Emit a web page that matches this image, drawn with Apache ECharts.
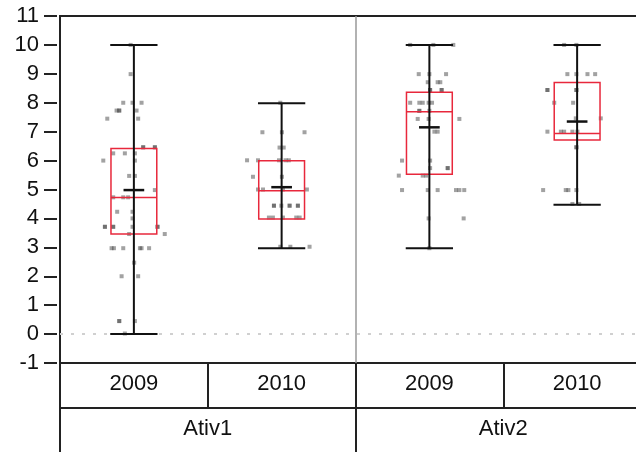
<!DOCTYPE html>
<html><head><meta charset="utf-8">
<script src="https://cdn.jsdelivr.net/npm/echarts@6/dist/echarts.min.js"></script>
<style>html,body{margin:0;padding:0;background:#fff}#c{width:636px;height:452px}</style>
</head><body><div id="c"></div>
<script>
// ---- data ----
const years = ['2009', '2010', '2009', '2010'];
const activities = ['Ativ1', 'Ativ2'];
const yMin = -1, yMax = 11, yStep = 1;

// box stats per group: [min, q1, median, q3, max, mean]
const statsA1_2009 = [0, 3.46, 4.72, 6.42, 10, 4.98];
const statsA1_2010 = [2.97, 3.98, 4.96, 5.99, 7.98, 5.08];
const statsA2_2009 = [2.97, 5.53, 7.69, 8.36, 10, 7.15];
const statsA2_2010 = [4.47, 6.71, 6.94, 8.70, 10, 7.35];

// individual observations (values) and their horizontal jitter (fraction of category width)
const valuesA1_2009 = [10, 8.99, 8, 8, 8, 7.73, 7.73, 7.73, 7.73, 7.45, 7.45, 6.46, 6.46, 6.46, 6.46, 6.25, 6.25, 6.25, 6, 6, 5.47, 5.47, 4.98, 4.73, 4.73, 4.73, 4.23, 4.23, 4, 3.71, 3.71, 3.71, 3.71, 3.71, 3.71, 3.71, 3.46, 3.46, 2.97, 2.97, 2.97, 2.97, 2.97, 2.97, 2.47, 2, 2, 0.45, 0.45, 0.45, 0.02];
const jitterA1_2009 = [-0.022, -0.022, -0.072, -0.009, 0.052, -0.117, -0.099, -0.099, 0.018, -0.180, 0.029, 0.063, 0.063, 0.142, 0.142, -0.140, -0.061, 0.007, -0.207, 0.007, -0.032, 0.007, 0.142, -0.140, -0.072, -0.039, -0.113, -0.009, -0.009, -0.196, -0.196, -0.140, -0.140, -0.009, 0.160, 0.160, -0.032, 0.209, -0.151, -0.135, -0.072, 0.041, 0.052, 0.103, 0.002, -0.083, 0.029, -0.099, -0.099, 0.007, -0.061];

const valuesA1_2010 = [8, 6.98, 6.98, 6.98, 6.45, 6.45, 6.01, 6.01, 6.01, 6.01, 6.01, 5.44, 5.44, 5, 5, 5, 5, 4.44, 4.44, 4.44, 4.44, 4.44, 4.44, 4.44, 4.03, 4.03, 4.03, 4.03, 4.03, 3.02, 3.02, 3.02];
const jitterA1_2010 = [-0.009, -0.130, 0.002, 0.155, -0.014, 0.014, -0.234, -0.160, -0.018, 0.027, 0.049, -0.194, 0.002, -0.160, -0.126, 0.009, 0.171, -0.052, -0.052, -0.002, 0.054, 0.054, 0.110, 0.110, -0.086, -0.059, 0.009, 0.099, 0.122, -0.009, 0.059, 0.189];

const valuesA2_2009 = [10, 10, 10, 8.99, 8.99, 8.99, 8.71, 8.71, 8.71, 8.44, 8.44, 8.44, 8.44, 8, 8, 8, 8, 8, 7.72, 7.72, 7.72, 7.44, 7.44, 7.44, 7, 7, 6, 6, 5.74, 5.74, 5.74, 5.48, 5.48, 5.48, 4.98, 4.98, 4.98, 4.98, 4.98, 4.98, 4, 4, 2.97];
const jitterA2_2009 = [-0.130, 0.027, 0.162, -0.072, 0.000, 0.113, -0.011, 0.056, 0.074, 0.005, 0.005, 0.083, 0.083, -0.130, -0.068, -0.045, -0.005, 0.018, -0.068, -0.068, 0.000, -0.079, -0.005, 0.203, 0.034, 0.056, -0.185, 0.005, 0.005, 0.124, 0.124, -0.207, -0.045, -0.022, -0.185, -0.011, 0.056, 0.180, 0.203, 0.236, -0.005, 0.232, 0.000];

const valuesA2_2010 = [10, 10, 8.99, 8.99, 8.99, 8.99, 8.44, 8.44, 8.44, 8.44, 8, 8, 7.46, 7.46, 7, 7, 7, 7, 7, 6.46, 6.46, 4.98, 4.98, 4.98, 4.98, 4.5, 4.5];
const jitterA2_2010 = [-0.088, -0.005, -0.066, -0.005, 0.070, 0.122, -0.201, -0.201, -0.005, -0.005, -0.155, -0.027, -0.009, 0.160, -0.201, -0.110, -0.088, -0.032, 0.002, -0.005, -0.005, -0.230, -0.077, -0.059, -0.005, -0.032, 0.014];

// ---- build ----
const FONT = 'Liberation Sans, Arial, sans-serif';
const groupStats = [statsA1_2009, statsA1_2010, statsA2_2009, statsA2_2010];
const groupValues = [valuesA1_2009, valuesA1_2010, valuesA2_2009, valuesA2_2010];
const groupJitter = [jitterA1_2009, jitterA1_2010, jitterA2_2009, jitterA2_2010];

const boxData = groupStats.map((s, i) => [i + 0.5].concat(s));
const pointData = [];
groupValues.forEach((vals, i) => {
  vals.forEach((v, k) => pointData.push([i + 0.5 + groupJitter[i][k], v]));
});

const RED = '#e8283c';
const INK = '#222';

const chart = echarts.init(document.getElementById('c'), null, {renderer: 'canvas'});
chart.setOption({
  animation: false,
  backgroundColor: '#fff',
  grid: {left: 60, top: 16, width: 591, height: 347, outerBoundsMode: 'none', containLabel: false,
         show: true, borderColor: INK, borderWidth: 2, backgroundColor: 'transparent'},
  xAxis: [
    {
      type: 'category', data: years, position: 'bottom', boundaryGap: true,
      axisLine: {show: true, onZero: false, lineStyle: {color: INK, width: 2}},
      axisTick: {show: true, length: 45, interval: 0, lineStyle: {color: INK, width: 2}},
      axisLabel: {margin: 10, fontSize: 22, color: '#111', fontFamily: FONT, interval: 0},
      splitLine: {show: false}
    },
    {
      type: 'category', data: activities, position: 'bottom', offset: 45, boundaryGap: true,
      axisLine: {show: true, onZero: false, lineStyle: {color: INK, width: 2}},
      axisTick: {show: true, length: 45, interval: 0, lineStyle: {color: INK, width: 2}},
      axisLabel: {margin: 10, fontSize: 22, color: '#111', fontFamily: FONT, interval: 0},
      splitLine: {show: false}
    },
    {type: 'value', min: 0, max: 4, show: false}
  ],
  yAxis: {
    type: 'value', min: yMin, max: yMax, interval: yStep, offset: 3,
    axisLine: {show: false, onZero: false},
    axisTick: {show: true, length: 13, lineStyle: {color: INK, width: 2}},
    axisLabel: {margin: 18, fontSize: 22, color: '#111', fontFamily: FONT},
    splitLine: {show: false}
  },
  series: [
    {
      type: 'scatter', xAxisIndex: 2, data: [], z: 1, silent: true,
      markLine: {
        silent: true, symbol: 'none', label: {show: false}, animation: false, z: 1,
        data: [
          {yAxis: 0, lineStyle: {color: '#d0d0d0', type: [3, 8], width: 2}},
          {xAxis: 2, lineStyle: {color: '#999', type: 'solid', width: 1.5}}
        ]
      }
    },
    {
      type: 'scatter', xAxisIndex: 2, data: pointData, symbol: 'rect', symbolSize: 4,
      itemStyle: {color: 'rgba(60,60,60,0.6)'}, z: 2, silent: true
    },
    {
      type: 'custom', xAxisIndex: 2, data: boxData, z: 3, silent: true,
      encode: {x: 0, y: [1, 2, 3, 4, 5, 6]},
      renderItem: function (params, api) {
        const x = api.value(0);
        const unit = api.size([1, 0])[0];
        const pMin = api.coord([x, api.value(1)]);
        const pQ1 = api.coord([x, api.value(2)]);
        const pMed = api.coord([x, api.value(3)]);
        const pQ3 = api.coord([x, api.value(4)]);
        const pMax = api.coord([x, api.value(5)]);
        const pMean = api.coord([x, api.value(6)]);
        const cx = pMed[0];
        const bw = unit * 0.31, cw = unit * 0.32, mw = unit * 0.14;
        const blk = {stroke: '#111', lineWidth: 2};
        return {
          type: 'group',
          children: [
            {type: 'rect', shape: {x: cx - bw / 2, y: pQ3[1], width: bw, height: pQ1[1] - pQ3[1]}, style: {fill: null, stroke: RED, lineWidth: 1.5}},
            {type: 'line', shape: {x1: cx - bw / 2, y1: pMed[1], x2: cx + bw / 2, y2: pMed[1]}, style: {stroke: RED, lineWidth: 1.5}},
            {type: 'line', shape: {x1: cx, y1: pMax[1], x2: cx, y2: pMin[1]}, style: blk},
            {type: 'line', shape: {x1: cx - cw / 2, y1: pMax[1], x2: cx + cw / 2, y2: pMax[1]}, style: blk},
            {type: 'line', shape: {x1: cx - cw / 2, y1: pMin[1], x2: cx + cw / 2, y2: pMin[1]}, style: blk},
            {type: 'line', shape: {x1: cx - mw / 2, y1: pMean[1], x2: cx + mw / 2, y2: pMean[1]}, style: {stroke: '#111', lineWidth: 2.5}}
          ]
        };
      }
    }
  ]
});
</script>
</body></html>
